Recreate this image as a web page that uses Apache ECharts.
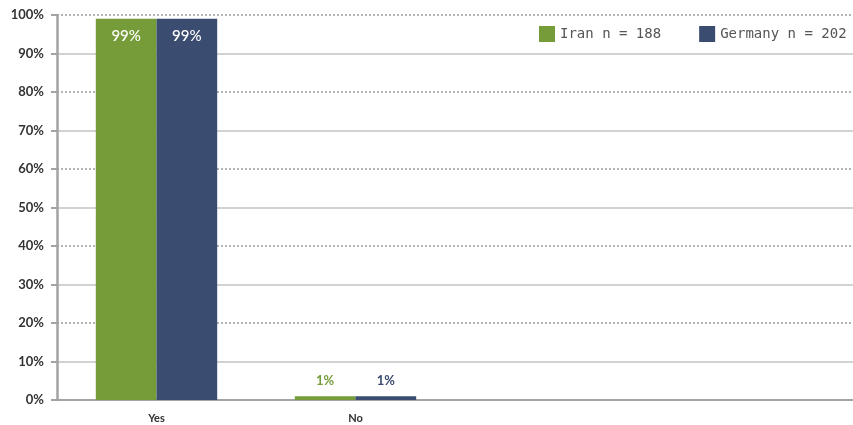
<!DOCTYPE html>
<html>
<head>
<meta charset="utf-8">
<style>
  html, body { margin: 0; padding: 0; background: #fff; }
  #chart { width: 853px; height: 425px; }
</style>
<script src="https://cdn.jsdelivr.net/npm/echarts@6/dist/echarts.min.js"></script>
</head>
<body>
<div id="chart"></div>
<script>
// Answer categories (trailing blanks keep the bands at the same width)
const categories = ['Yes', 'No', '', ''];
const seriesNames = ['Iran n = 188', 'Germany n = 202'];
const iranValues = [99, 1, null, null];
const germanyValues = [99, 1, null, null];
const yTicks = [0, 10, 20, 30, 40, 50, 60, 70, 80, 90, 100];

const GREEN = '#759c39';
const NAVY = '#3a4c70';

const chart = echarts.init(document.getElementById('chart'), null, { renderer: 'canvas' });

function barLabel(color, inside) {
  return inside ? {
    show: true,
    position: 'insideTop',
    distance: 10,
    formatter: p => (p.value == null ? '' : p.value + '%'),
    color: '#ffffff',
    fontFamily: 'Lato',
    fontSize: 15,
    fontWeight: 500
  } : {
    show: true,
    position: 'top',
    distance: 9,
    formatter: p => (p.value == null ? '' : p.value + '%'),
    color: color,
    fontFamily: 'Lato',
    fontSize: 13,
    fontWeight: 'bold'
  };
}

function buildData(values, color) {
  return values.map(v => ({
    value: v,
    label: v != null && v > 50 ? barLabel(color, true) : barLabel(color, false)
  }));
}

chart.setOption({
  animation: false,
  backgroundColor: '#ffffff',
  grid: { left: 57, right: -4, top: 15, bottom: 25, containLabel: false },
  legend: {
    left: 539,
    top: 26,
    padding: 0,
    itemWidth: 16,
    itemHeight: 16,
    itemGap: 38,
    icon: 'rect',
    textStyle: { fontFamily: 'DejaVu Sans Mono', fontSize: 14, color: '#555555' },
    data: seriesNames
  },
  xAxis: {
    type: 'category',
    data: categories,
    axisLine: { show: true, lineStyle: { color: '#a3a3a6', width: 2 } },
    axisTick: { show: false },
    axisLabel: {
      color: '#333333',
      fontFamily: 'Lato',
      fontSize: 11,
      fontWeight: 'bold',
      margin: 13
    },
    splitLine: { show: false }
  },
  yAxis: [
    {
      type: 'value',
      min: yTicks[0],
      max: yTicks[yTicks.length - 1],
      interval: 10,
      axisLine: { show: true, lineStyle: { color: '#a3a3a6', width: 2.5 } },
      axisTick: { show: true, length: 6, lineStyle: { color: '#a3a3a6', width: 2 } },
      axisLabel: {
        formatter: '{value}%',
        color: '#333333',
        fontFamily: 'Lato',
        fontSize: 13,
        fontWeight: 'bold',
        margin: 13
      },
      splitLine: { show: false }
    },
    {
      type: 'value',
      position: 'left',
      min: 0,
      max: 100,
      interval: 20,
      axisLine: { show: false },
      axisTick: { show: false },
      axisLabel: { show: false },
      splitLine: { show: true, lineStyle: { color: '#9a9a9a', width: 1.5, type: [2, 2] } },
      minorTick: { show: false, splitNumber: 2 },
      minorSplitLine: { show: true, lineStyle: { color: '#c4c4c4', width: 1.5 } }
    }
  ],
  series: [
    {
      name: seriesNames[0],
      type: 'bar',
      yAxisIndex: 0,
      barWidth: '30.5%',
      barGap: '0%',
      itemStyle: { color: GREEN },
      data: buildData(iranValues, GREEN),
      z: 3
    },
    {
      name: seriesNames[1],
      type: 'bar',
      yAxisIndex: 0,
      barWidth: '30.5%',
      barGap: '0%',
      itemStyle: { color: NAVY },
      data: buildData(germanyValues, NAVY),
      z: 3
    }
  ]
});
</script>
</body>
</html>
